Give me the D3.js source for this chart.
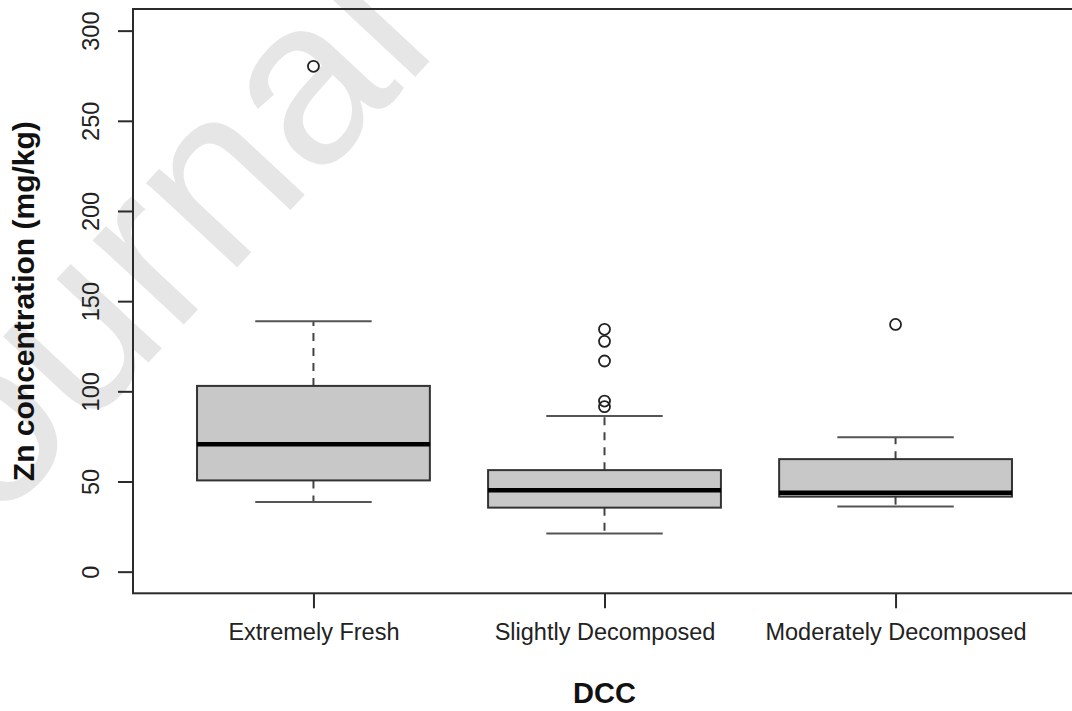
<!DOCTYPE html>
<html>
<head>
<meta charset="utf-8">
<script src="https://cdn.jsdelivr.net/npm/d3@7"></script>
<style>
  html, body { margin: 0; padding: 0; background: #fff; }
  svg { display: block; font-family: "Liberation Sans", Arial, sans-serif; }
</style>
</head>
<body>
<div id="chart"></div>
<script>
// Zn concentration by decomposition class
const categories = ["Extremely Fresh", "Slightly Decomposed", "Moderately Decomposed"];
const whiskerLow  = [38.6, 21.1, 36.2];
const q1          = [50.6, 35.5, 41.6];
const median      = [70.7, 45.1, 43.8];
const q3          = [103.0, 56.3, 62.4];
const whiskerHigh = [138.9, 86.3, 74.5];
const outliers    = [[280.2], [134.4, 127.7, 116.8, 94.6, 91.5], [137.1]];
const yTicks      = [0, 50, 100, 150, 200, 250, 300];

const width = 1072, height = 711;

let boxes = categories.map((c, i) => ({
  name: c, pos: i + 1,
  lo: whiskerLow[i], q1: q1[i], med: median[i], q3: q3[i], hi: whiskerHigh[i],
  out: outliers[i]
}));

// R-style user coordinates: x from 0.5..3.5 extended 4%, y from 0..300 extended 4%
let x = d3.scaleLinear().domain([0.38, 3.62]).range([133, 1076]);
let y = d3.scaleLinear().domain([-12, 312]).range([593.3, 9]);

let svg = d3.select("#chart").append("svg")
    .attr("width", width)
    .attr("height", height);

// faint watermark behind the plot
svg.append("text")
    .attr("transform", "translate(440,50) rotate(-47)")
    .attr("text-anchor", "end")
    .style("font-size", "235px")
    .style("fill", "#e6e6e6")
    .text("Journal");

// plot frame
svg.append("rect")
    .attr("x", x(0.38))
    .attr("y", y(312))
    .attr("width", x(3.62) - x(0.38))
    .attr("height", y(-12) - y(312))
    .attr("fill", "none")
    .attr("stroke", "#2b2b2b")
    .attr("stroke-width", 2);

// y axis
let yAxis = svg.append("g")
    .attr("transform", "translate(" + x(0.38) + ",0)")
    .call(d3.axisLeft(y).tickValues(yTicks).tickSize(15).tickSizeOuter(0));
yAxis.select(".domain").remove();
yAxis.selectAll("line").attr("stroke", "#2b2b2b").attr("stroke-width", 2);
yAxis.selectAll("text")
    .attr("x", null).attr("dy", null)
    .attr("transform", "translate(-34,0) rotate(-90)")
    .attr("text-anchor", "middle")
    .style("font-size", "23.5px")
    .style("fill", "#222")
    .style("font-family", "'Liberation Sans', Arial, sans-serif");

// x axis
let xAxis = svg.append("g")
    .attr("transform", "translate(0," + y(-12) + ")")
    .call(d3.axisBottom(x).tickValues([1, 2, 3]).tickSize(15).tickSizeOuter(0)
      .tickFormat((d) => categories[d - 1]));
xAxis.select(".domain").remove();
xAxis.selectAll("line").attr("stroke", "#2b2b2b").attr("stroke-width", 2);
xAxis.selectAll("text")
    .attr("y", 47).attr("dy", null)
    .style("font-size", "23.5px")
    .style("fill", "#222")
    .style("font-family", "'Liberation Sans', Arial, sans-serif");

// boxes
let half = 0.4, cap = 0.2;
let g = svg.selectAll(".box")
    .data(boxes)
    .enter().append("g")
    .attr("class", "box");

// dashed whiskers
g.append("line")
    .attr("x1", (d) => x(d.pos)).attr("x2", (d) => x(d.pos))
    .attr("y1", (d) => y(d.q3)).attr("y2", (d) => y(d.hi))
    .attr("stroke", "#444").attr("stroke-width", 2)
    .attr("stroke-dasharray", "8,7");
g.append("line")
    .attr("x1", (d) => x(d.pos)).attr("x2", (d) => x(d.pos))
    .attr("y1", (d) => y(d.q1)).attr("y2", (d) => y(d.lo))
    .attr("stroke", "#444").attr("stroke-width", 2)
    .attr("stroke-dasharray", "8,7");

// whisker caps
g.append("line")
    .attr("x1", (d) => x(d.pos - cap)).attr("x2", (d) => x(d.pos + cap))
    .attr("y1", (d) => y(d.hi)).attr("y2", (d) => y(d.hi))
    .attr("stroke", "#555").attr("stroke-width", 2);
g.append("line")
    .attr("x1", (d) => x(d.pos - cap)).attr("x2", (d) => x(d.pos + cap))
    .attr("y1", (d) => y(d.lo)).attr("y2", (d) => y(d.lo))
    .attr("stroke", "#555").attr("stroke-width", 2);

// box
g.append("rect")
    .attr("x", (d) => x(d.pos - half))
    .attr("y", (d) => y(d.q3))
    .attr("width", (d) => x(d.pos + half) - x(d.pos - half))
    .attr("height", (d) => y(d.q1) - y(d.q3))
    .attr("fill", "#c8c8c8")
    .attr("stroke", "#333")
    .attr("stroke-width", 2);

// median
g.append("line")
    .attr("x1", (d) => x(d.pos - half)).attr("x2", (d) => x(d.pos + half))
    .attr("y1", (d) => y(d.med)).attr("y2", (d) => y(d.med))
    .attr("stroke", "#000").attr("stroke-width", 4.5);

// outliers
g.selectAll(".out")
    .data((d) => d.out.map((v) => ({pos: d.pos, v: v})))
    .enter().append("circle")
    .attr("class", "out")
    .attr("cx", (d) => x(d.pos))
    .attr("cy", (d) => y(d.v))
    .attr("r", 5.5)
    .attr("fill", "none")
    .attr("stroke", "#222")
    .attr("stroke-width", 1.8);

// axis titles
svg.append("text")
    .attr("transform", "translate(34," + ((y(-12) + y(312)) / 2) + ") rotate(-90)")
    .attr("text-anchor", "middle")
    .style("font-size", "30px")
    .style("font-weight", "bold")
    .style("fill", "#111")
    .text("Zn concentration (mg/kg)");

svg.append("text")
    .attr("x", (x(0.38) + x(3.62)) / 2)
    .attr("y", 703)
    .attr("text-anchor", "middle")
    .style("font-size", "29px")
    .style("font-weight", "bold")
    .style("fill", "#111")
    .text("DCC");
</script>
</body>
</html>
